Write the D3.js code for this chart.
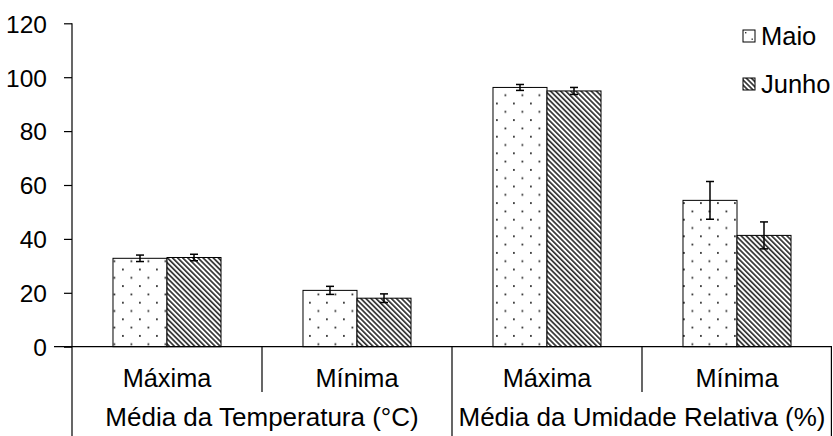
<!DOCTYPE html>
<html>
<head>
<meta charset="utf-8">
<script src="https://cdn.jsdelivr.net/npm/d3@7"></script>
<style>
  html, body { margin: 0; padding: 0; background: #fff; }
  text { font-family: "Liberation Sans", Arial, sans-serif; fill: #000; }
</style>
</head>
<body>
<script>
const categories = ["Máxima", "Mínima", "Máxima", "Mínima"];
const groups = ["Média da Temperatura (°C)", "Média da Umidade Relativa (%)"];
const series = ["Maio", "Junho"];
const maio = [32.8, 20.9, 96.2, 54.3];
const junho = [33.1, 18.0, 94.9, 41.3];
const maioErr = [1.2, 1.5, 1.1, 7.0];
const junhoErr = [1.2, 1.6, 1.3, 5.0];
const yTicks = [0, 20, 40, 60, 80, 100, 120];

const W = 833, H = 436;
const plotLeft = 72, plotRight = 832, plotTop = 23.3, plotBase = 346.7;

const svg = d3.select("body").append("svg").attr("width", W).attr("height", H);
const defs = svg.append("defs");

// dotted pattern
const dots = defs.append("pattern").attr("id", "dots").attr("patternUnits", "userSpaceOnUse")
  .attr("width", 17).attr("height", 16.6);
dots.append("rect").attr("width", 17).attr("height", 16.6).attr("fill", "#fff");
dots.append("rect").attr("x", 3).attr("y", 3).attr("width", 1.8).attr("height", 1.8).attr("fill", "#333");
dots.append("rect").attr("x", 11.5).attr("y", 11.3).attr("width", 1.8).attr("height", 1.8).attr("fill", "#333");

// hatch pattern
const hatch = defs.append("pattern").attr("id", "hatch").attr("patternUnits", "userSpaceOnUse")
  .attr("width", 3.6).attr("height", 10).attr("patternTransform", "rotate(-45)");
hatch.append("rect").attr("width", 3.6).attr("height", 10).attr("fill", "#fff");
hatch.append("rect").attr("width", 1.7).attr("height", 10).attr("fill", "#333");

const fills = { Maio: "url(#dots)", Junho: "url(#hatch)" };

const y = d3.scaleLinear().domain([0, 120]).range([plotBase, plotTop]);
const x0 = d3.scaleBand().domain(d3.range(categories.length)).range([plotLeft, plotRight]).paddingInner(0).paddingOuter(0);
const x1 = d3.scaleBand().domain(series).range([0, x0.bandwidth()]).paddingInner(0).paddingOuter(0.759);

// y axis
const yAxis = d3.axisLeft(y).tickValues(yTicks).tickSize(8).tickPadding(17);
const gy = svg.append("g").attr("transform", `translate(${plotLeft},0)`).call(yAxis);
gy.select(".domain").remove();
gy.selectAll("line").attr("stroke", "#000").attr("stroke-width", 1.2);
gy.selectAll("text").style("font-size", "24.5px").style("font-family", "Liberation Sans, Arial, sans-serif").attr("dy", "0.36em");
svg.append("line").attr("x1", plotLeft).attr("x2", plotLeft).attr("y1", plotTop).attr("y2", H)
  .attr("stroke", "#000").attr("stroke-width", 1.2);

// bars
const rows = [];
categories.forEach((c, i) => {
  rows.push({ i, s: "Maio", v: maio[i], e: maioErr[i] });
  rows.push({ i, s: "Junho", v: junho[i], e: junhoErr[i] });
});

svg.append("g").selectAll("rect").data(rows).join("rect")
  .attr("x", d => x0(d.i) + x1(d.s))
  .attr("y", d => y(d.v))
  .attr("width", x1.bandwidth())
  .attr("height", d => y(0) - y(d.v))
  .attr("fill", d => fills[d.s])
  .attr("stroke", "#000").attr("stroke-width", 1);

// error bars
const eb = svg.append("g").attr("stroke", "#000").attr("stroke-width", 1.5);
rows.forEach(d => {
  const cx = x0(d.i) + x1(d.s) + x1.bandwidth() / 2;
  eb.append("line").attr("x1", cx).attr("x2", cx).attr("y1", y(d.v + d.e)).attr("y2", y(d.v - d.e));
  eb.append("line").attr("x1", cx - 4).attr("x2", cx + 4).attr("y1", y(d.v + d.e)).attr("y2", y(d.v + d.e));
  eb.append("line").attr("x1", cx - 4).attr("x2", cx + 4).attr("y1", y(d.v - d.e)).attr("y2", y(d.v - d.e));
});

// x axis
const ax = svg.append("g").attr("stroke", "#000").attr("stroke-width", 1.2);
ax.append("line").attr("x1", 54).attr("x2", plotRight).attr("y1", y(0)).attr("y2", y(0));
categories.forEach((c, i) => {
  if (i === 0) return;
  const xx = x0(i);
  ax.append("line").attr("x1", xx).attr("x2", xx).attr("y1", y(0)).attr("y2", i % 2 === 0 ? H : 392);
});
ax.append("line").attr("x1", plotRight - 0.6).attr("x2", plotRight - 0.6).attr("y1", y(0)).attr("y2", H);

svg.append("g").selectAll("text").data(categories).join("text")
  .attr("x", (d, i) => x0(i) + x0.bandwidth() / 2)
  .attr("y", 386.5)
  .attr("text-anchor", "middle")
  .style("font-size", "25.3px")
  .text(d => d);

svg.append("g").selectAll("text").data(groups).join("text")
  .attr("x", (d, i) => x0(i * 2) + x0.bandwidth())
  .attr("y", 425.5)
  .attr("text-anchor", "middle")
  .style("font-size", "26px")
  .text(d => d);

// legend
const lg = svg.append("g");
series.forEach((s, i) => {
  const ly = 36 + i * 48;
  lg.append("rect").attr("x", 743).attr("y", ly - 6).attr("width", 12).attr("height", 12)
    .attr("fill", s === "Maio" ? "#fff" : "url(#hatch)").attr("stroke", "#000").attr("stroke-width", 1);
  if (s === "Maio") {
    lg.append("rect").attr("x", 745).attr("y", ly - 4).attr("width", 1.4).attr("height", 1.4).attr("fill", "#333");
    lg.append("rect").attr("x", 751.5).attr("y", ly + 2.5).attr("width", 1.4).attr("height", 1.4).attr("fill", "#333");
  }
  lg.append("text").attr("x", 761).attr("y", ly).attr("dy", "0.36em")
    .style("font-size", "25.5px").text(s);
});
</script>
</body>
</html>
